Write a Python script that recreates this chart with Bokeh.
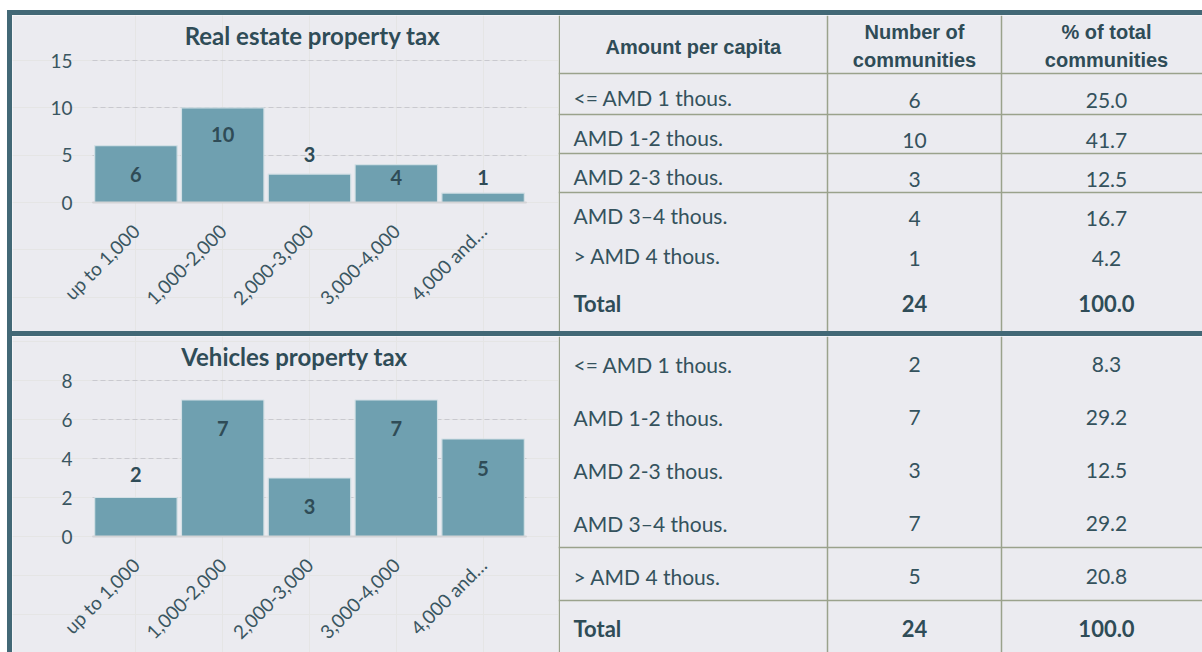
import math
from bokeh.plotting import figure
from bokeh.layouts import column, row
from bokeh.models import (ColumnDataSource, FixedTicker, Range1d, Spacer, Div,
                          LinearAxis, Grid)
from bokeh.core.properties import value
from bokeh.embed import file_html
from bokeh.resources import INLINE

# ---------------- data ----------------
categories = ["up to 1,000", "1,000-2,000", "2,000-3,000", "3,000-4,000", "4,000 and\u2026"]
real_estate_counts = [6, 10, 3, 4, 1]
vehicle_counts = [2, 7, 3, 7, 5]
real_estate_ticks = [0, 5, 10, 15]
vehicle_ticks = [0, 2, 4, 6, 8]

header_amount = "Amount per capita"
header_line1 = ["Number of", "% of total"]
header_line2 = ["communities", "communities"]
amount_groups = ["<= AMD 1 thous.", "AMD 1-2 thous.", "AMD 2-3 thous.", "AMD 3\u20134 thous.", "> AMD 4 thous."]
real_estate_pct = ["25.0", "41.7", "12.5", "16.7", "4.2"]
vehicle_pct = ["8.3", "29.2", "12.5", "29.2", "20.8"]
total_label = "Total"
real_estate_total = ["24", "100.0"]
vehicle_total = ["24", "100.0"]

# ---------------- layout / style ----------------
real_estate_label_y = [3.0, 7.2, 5.1, 2.6, 2.6]
vehicle_label_y = [3.2, 5.55, 1.55, 5.55, 3.5]

BG = "#EBEBF0"
FRAME = "#426876"
BAR = "#6FA0B0"
BAR_EDGE = "#D3E0E5"
TXT = "#2F4C57"
TICK_TXT = "#3A5661"
BODY_TXT = "#34525D"
RULE = "#9AA28C"
GRID = "#C9C9CF"
CHART_FONT = "Lato"
BODY_FONT = "Lato"
HEAD_FONT = "Liberation Sans"

W_CHART, W_TABLE, W_EDGE = 546, 644, 5
PLOT_LEFT, PLOT_RIGHT = 80, 514   # plot area inside the chart figure (px)


def bar_chart(title, counts, ticks, label_y, height, zero_px, top_px, title_px, title_dx):
    n = len(categories)
    xs = list(range(1, n + 1))
    ppx = (PLOT_RIGHT - PLOT_LEFT) / n
    ppu = (zero_px - top_px) / ticks[-1]
    x_range = Range1d(0.5 - PLOT_LEFT / ppx, n + 0.5 + (W_CHART - PLOT_RIGHT) / ppx)
    y_range = Range1d(-(height - zero_px) / ppu, ticks[-1] + top_px / ppu)
    p = figure(x_range=x_range, y_range=y_range, x_axis_location=None, y_axis_location=None,
               width=W_CHART, height=height, output_backend="svg", toolbar_location=None,
               min_border=0, background_fill_color=BG, border_fill_color=BG,
               outline_line_color=None)

    grid = Grid(dimension=1, ticker=FixedTicker(ticks=ticks), cross_bounds=(0.5, n + 0.5),
                grid_line_color=GRID, grid_line_dash="5 3", grid_line_width=1)
    p.add_layout(grid)

    src = ColumnDataSource(dict(x=xs, n=counts, ly=label_y, lab=[str(c) for c in counts]))
    p.vbar(x="x", top="n", bottom=0, width=0.95, source=src,
           fill_color=BAR, line_color=BAR_EDGE, line_width=1.2)
    p.text(x="x", y="ly", text="lab", source=src, text_align="center",
           text_baseline="middle", text_font=value(CHART_FONT), text_font_style="bold",
           text_font_size="20px", text_color=TXT)

    # chart title
    p.text(x=[(n + 1) / 2], y=[ticks[-1] + (top_px - title_px) / ppu], text=[title],
           x_offset=title_dx, text_align="center", text_baseline="middle",
           text_font=value(CHART_FONT), text_font_style="bold", text_font_size="24px",
           text_color=TXT)

    xa = LinearAxis(fixed_location=0, ticker=FixedTicker(ticks=xs), bounds=(0.5, n + 0.5),
                    major_label_overrides={x: c for x, c in zip(xs, categories)})
    xa.axis_line_color = "#D4D4D6"
    xa.axis_line_width = 2
    xa.major_tick_line_color = None
    xa.minor_tick_line_color = None
    xa.major_tick_out = 0
    xa.major_tick_in = 0
    xa.minor_tick_out = 0
    xa.major_label_orientation = math.pi / 4
    xa.major_label_standoff = 25
    xa.major_label_text_font = CHART_FONT
    xa.major_label_text_font_size = "19px"
    xa.major_label_text_color = TICK_TXT
    p.add_layout(xa, "below")

    ya = LinearAxis(fixed_location=0.5, ticker=FixedTicker(ticks=ticks))
    ya.axis_line_color = None
    ya.major_tick_line_color = None
    ya.minor_tick_line_color = None
    ya.major_tick_out = 0
    ya.major_tick_in = 0
    ya.minor_tick_out = 0
    ya.major_label_standoff = 20
    ya.major_label_text_font = CHART_FONT
    ya.major_label_text_font_size = "19px"
    ya.major_label_text_color = TICK_TXT
    p.add_layout(ya, "left")
    return p


def base_table(height):
    return figure(width=W_TABLE, height=height, x_range=Range1d(0, W_TABLE),
                  y_range=Range1d(height, 0), output_backend="svg", toolbar_location=None,
                  min_border=0, x_axis_type=None, y_axis_type=None,
                  background_fill_color=BG, border_fill_color=BG, outline_line_color=None)


COL_LINES = [0.75, 269, 443]
COL_TEXT_X = 15
COL2_X = 356
COL3_X = 548


def fill_table(t, height, edges, drawn, counts, pcts, totals, label_dy, num_dy, header=False):
    t.segment(x0=COL_LINES, y0=[0] * 3, x1=COL_LINES, y1=[height] * 3,
              line_color=RULE, line_width=1.5)
    t.segment(x0=[0] * len(drawn), y0=drawn, x1=[W_TABLE] * len(drawn), y1=drawn,
              line_color=RULE, line_width=1.5)
    centers = [(edges[i] + edges[i + 1]) / 2 for i in range(len(edges) - 1)]
    body = centers[:len(amount_groups)]
    tot = centers[len(amount_groups)]
    t.text(x=[COL_TEXT_X] * len(body), y=[c + label_dy for c in body], text=amount_groups,
           text_align="left", text_baseline="middle", text_font=value(BODY_FONT),
           text_font_size="21px", text_color=BODY_TXT)
    t.text(x=[COL2_X] * len(body), y=[c + num_dy for c in body], text=[str(c) for c in counts],
           text_align="center", text_baseline="middle", text_font=value(BODY_FONT),
           text_font_size="21px", text_color=BODY_TXT)
    t.text(x=[COL3_X] * len(body), y=[c + num_dy for c in body], text=pcts,
           text_align="center", text_baseline="middle", text_font=value(BODY_FONT),
           text_font_size="21px", text_color=BODY_TXT)
    t.text(x=[COL_TEXT_X, COL2_X, COL3_X], y=[tot + 1] * 3, text=[total_label] + totals,
           text_align=["left", "center", "center"], text_baseline="middle",
           text_font=value(BODY_FONT), text_font_style="bold", text_font_size="22px",
           text_color=TXT)
    if header:
        t.text(x=[(COL_LINES[0] + COL_LINES[1]) / 2], y=[edges[0] / 2 + 2], text=[header_amount],
               text_align="center", text_baseline="middle", text_font=value(HEAD_FONT),
               text_font_style="bold", text_font_size="20px", text_color=TXT)
        t.text(x=[COL2_X, COL3_X], y=[16, 16], text=header_line1,
               text_align="center", text_baseline="middle", text_font=value(HEAD_FONT),
               text_font_style="bold", text_font_size="20px", text_color=TXT)
        t.text(x=[COL2_X, COL3_X], y=[44, 44], text=header_line2,
               text_align="center", text_baseline="middle", text_font=value(HEAD_FONT),
               text_font_style="bold", text_font_size="20px", text_color=TXT)


def dark(w, h):
    return Div(text="", width=w, height=h, margin=0,
               styles={"background-color": FRAME})


chart1 = bar_chart("Real estate property tax", real_estate_counts, real_estate_ticks,
                   real_estate_label_y, 316, 187, 45, 20, 3)
chart2 = bar_chart("Vehicles property tax", vehicle_counts, vehicle_ticks,
                   vehicle_label_y, 316, 200, 44, 20, -15)

table1 = base_table(316)
edges1 = [58, 99, 138, 177, 217, 257, 316]
fill_table(table1, 316, edges1, edges1[:4], real_estate_counts, real_estate_pct,
           real_estate_total, 3, 6, header=True)

table2 = base_table(316)
edges2 = [0, 52.75, 105.5, 158.25, 211, 264, 317]
fill_table(table2, 316, edges2, [211, 264], vehicle_counts, vehicle_pct,
           vehicle_total, 2, 2)

framed = column(
    dark(W_EDGE + W_CHART + W_TABLE, 5),
    row(dark(W_EDGE, 316), chart1, table1, spacing=0),
    dark(W_EDGE + W_CHART + W_TABLE, 5),
    row(dark(W_EDGE, 316), chart2, table2, spacing=0),
    spacing=0,
)
layout = column(
    Spacer(width=1202, height=10, margin=0),
    row(Spacer(width=7, height=642, margin=0), framed, spacing=0),
    spacing=0,
)

open("out.html", "w").write(file_html(layout, INLINE))
